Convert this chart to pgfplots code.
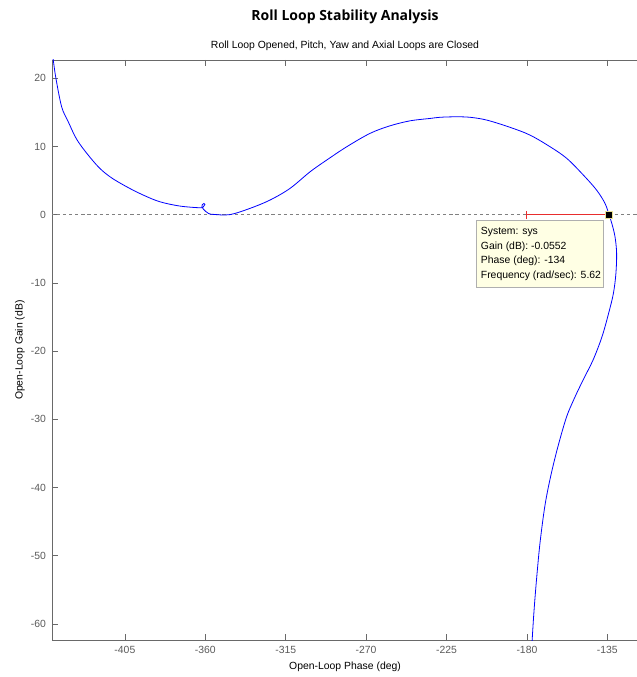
\documentclass[border=0pt]{standalone}
\usepackage{fontspec}
\setmainfont{Liberation Sans}
\newfontfamily\titlefont{Open Sans}
\usepackage{pgfplots}
\pgfplotsset{compat=1.18}

\definecolor{axgray}{RGB}{105,105,105}
\definecolor{lblgray}{RGB}{90,90,90}
\definecolor{tipfill}{RGB}{255,255,228}
\definecolor{tipedge}{RGB}{175,175,175}
\definecolor{markedge}{RGB}{235,225,150}
\definecolor{marginred}{RGB}{232,45,45}

\begin{document}
\begin{tikzpicture}
\begin{axis}[
  name=ax,
  scale only axis,
  width=439.5pt, height=435.2pt,
  xmin=-445.8, xmax=-117.8,
  ymin=-62.4, ymax=22.7,
  xtick={-405,-360,-315,-270,-225,-180,-135},
  ytick={-60,-50,-40,-30,-20,-10,0,10,20},
  ytick pos=left,
  tick align=inside,
  major tick length=4.5pt,
  axis line style={axgray, line width=0.7pt},
  tick style={axgray, line width=0.6pt},
  ticklabel style={font=\fontsize{7.8}{9}\selectfont, text=lblgray},
  xticklabel style={yshift=-1pt},
  yticklabel style={xshift=-1pt},
  /pgf/number format/assume math mode=true,
  clip=true,
]
% 0 dB reference line
\addplot[gray, line width=0.6pt, dash pattern=on 2.4pt off 2.2pt] coordinates {(-450,0) (-110,0)};

% open-loop frequency response (phase, gain)
\addplot[blue, line width=0.6pt, smooth, tension=0.55] coordinates {
  (-445.6,23.6) (-445.1,22.7) (-443.6,20.0) (-440.4,15.84) (-436.7,13.64)
  (-431.1,10.70) (-420.8,7.29) (-413.3,5.57) (-404.0,4.11) (-394.7,2.89)
  (-385.4,1.91) (-374.2,1.28) (-363.0,1.03) (-361.1,1.17) (-360.2,1.52)
  (-360.8,1.66) (-361.7,1.48) (-361.9,1.18) (-361.0,0.80) (-358.3,0.21)
  (-355.5,0.06) (-346.2,0.03) (-335.0,0.94) (-323.8,2.16) (-312.6,3.87)
  (-301.4,6.30) (-292.1,8.02) (-280.9,9.97) (-267.8,11.94) (-256.6,13.05)
  (-245.4,13.78) (-234.2,14.13) (-228.6,14.30) (-220.0,14.37) (-211.9,14.30)
  (-202.5,13.89) (-189.4,12.82) (-178.3,11.69) (-167.0,9.97) (-157.7,8.27)
  (-148.4,5.82) (-141.0,3.62) (-136.3,1.67) (-134.0,-0.0552) (-132.5,-1.26)
  (-130.7,-3.23) (-129.8,-5.66) (-130.2,-8.59) (-131.6,-11.52) (-134.3,-14.46)
  (-138.0,-17.89) (-143.0,-21.30) (-148.6,-24.24) (-153.9,-27.17) (-158.4,-30.10)
  (-164.6,-35.97) (-169.4,-41.83) (-172.5,-47.70) (-174.5,-53.08) (-176.0,-57.96)
  (-176.97,-61.88) (-177.3,-63.5)
};

% stability margin segment from -180 deg
\addplot[marginred, line width=0.7pt] coordinates {(-180,0) (-134,0)};
\addplot[marginred, only marks, mark=|, mark size=3pt, mark options={line width=0.7pt}] coordinates {(-180,0)};

% data tip marker
\addplot[only marks, mark=square*, mark size=2.7pt, mark options={fill=black, draw=markedge, line width=0.6pt}] coordinates {(-134,-0.0552)};

% data tip box
\draw[tipedge, fill=tipfill, line width=0.6pt] (axis cs:-208.5,-0.82) rectangle (axis cs:-137.2,-10.70);
\begin{scope}[every node/.style={anchor=west, inner sep=0pt, font=\fontsize{7.8}{9}\selectfont}]
  \node at (axis cs:-205.9,-2.58) {System: sys};
  \node at (axis cs:-205.9,-4.69) {Gain (dB): -0.0552};
  \node at (axis cs:-205.9,-6.79) {Phase (deg): -134};
  \node at (axis cs:-205.9,-8.95) {Frequency (rad/sec): 5.62};
\end{scope}
\end{axis}

% titles and axis labels
\node[font=\titlefont\bfseries\fontsize{10.5}{12}\selectfont] at ([xshift=219.75pt,yshift=32.5pt]ax.north west) {Roll Loop Stability Analysis};
\node[font=\fontsize{7.8}{9}\selectfont] at ([xshift=219.75pt,yshift=10.5pt]ax.north west) {Roll Loop Opened, Pitch, Yaw and Axial Loops are Closed};
\node[font=\fontsize{7.8}{9}\selectfont] at ([xshift=219.75pt,yshift=-20pt]ax.south west) {Open-Loop Phase (deg)};
\node[font=\fontsize{7.8}{9}\selectfont, rotate=90] at ([xshift=-24pt]ax.west) {Open-Loop Gain (dB)};

% page frame
\pgfresetboundingbox
\path[use as bounding box] ([xshift=-39pt,yshift=-27.5pt]ax.south west) rectangle ([xshift=438pt,yshift=45pt]ax.north west);
\end{tikzpicture}
\end{document}
